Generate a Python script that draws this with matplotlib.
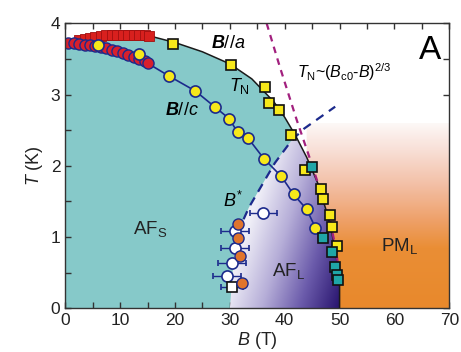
import numpy as np
import matplotlib
matplotlib.use("Agg")
import matplotlib.pyplot as plt
from matplotlib.patches import Polygon
from matplotlib.colors import LinearSegmentedColormap
from matplotlib.ticker import MultipleLocator

plt.rcParams['font.family'] = 'Liberation Sans'
plt.rcParams['mathtext.fontset'] = 'custom'
plt.rcParams['mathtext.rm'] = 'Liberation Sans'
plt.rcParams['mathtext.it'] = 'Liberation Sans:italic'
plt.rcParams['mathtext.bf'] = 'Liberation Sans:bold:italic'

# phase boundary T_N (black line)
bnd_B = [0, 2, 5, 10, 15, 20, 25, 30, 34, 38, 40, 42, 44, 46, 47.9, 48.6, 49.2, 49.8, 50, 50]
bnd_T = [3.76, 3.79, 3.82, 3.85, 3.83, 3.73, 3.60, 3.43, 3.22, 2.90, 2.68, 2.42, 2.12, 1.76, 1.29, 1.05, 0.82, 0.55, 0.30, 0]

# left edge of AF_L region and B* dashed line
afl_B = [30, 30.3, 30.6, 31, 31.8, 32.5]
afl_T = [0, 0.3, 0.6, 0.9, 1.1, 1.25]
bstar_B = [32.5, 33.5, 36, 38.2, 41, 42, 43.5, 49.2]
bstar_T = [1.25, 1.42, 1.75, 2.04, 2.33, 2.41, 2.52, 2.83]

# T_N ~ (Bc0 - B)^(2/3) dashed line
fit_B = [36.7, 39.1, 42.2, 44.5, 46.3, 48.3, 49.4, 50.1]
fit_T = [4.0, 3.39, 2.64, 2.12, 1.70, 1.22, 0.80, 0.36]

# B//a : red squares (low field), yellow squares, teal squares
rsq_B = [2.5, 3.5, 4.5, 5.5, 6.5, 7.5, 8.5, 9.5, 10.5, 11.5, 12.5, 13.5, 14.5, 15.2]
rsq_T = [3.76, 3.78, 3.80, 3.81, 3.82, 3.83, 3.84, 3.84, 3.84, 3.83, 3.83, 3.83, 3.83, 3.82]
ysq_B = [19.7, 30.2, 36.4, 37.2, 38.9, 41.1, 43.7, 46.7, 47.0, 48.2, 48.6, 49.6]
ysq_T = [3.71, 3.42, 3.10, 2.88, 2.78, 2.43, 1.94, 1.68, 1.54, 1.31, 1.14, 0.87]
tsq_B = [44.9, 46.9, 48.7, 49.2, 49.5, 49.7]
tsq_T = [1.99, 0.98, 0.79, 0.58, 0.47, 0.40]

# B//c : red circles (low field), yellow circles
rci_B = [0.5, 1.5, 2.5, 3.5, 4.5, 5.5, 6.5, 7.5, 8.5, 9.5, 10.5, 11.5, 12.5, 13.5, 14.5, 15.0]
rci_T = [3.72, 3.72, 3.71, 3.70, 3.69, 3.68, 3.67, 3.65, 3.63, 3.61, 3.59, 3.56, 3.53, 3.50, 3.47, 3.44]
yci_B = [5.9, 13.4, 18.9, 23.7, 27.2, 29.9, 31.4, 33.3, 36.2, 39.4, 41.6, 44.0, 45.6]
yci_T = [3.69, 3.57, 3.26, 3.05, 2.83, 2.66, 2.47, 2.39, 2.10, 1.85, 1.60, 1.39, 1.13]

# B* points: open circles with error bars, orange circles
wci_B = [36.1, 30.9, 30.9, 30.4, 29.5]
wci_T = [1.34, 1.08, 0.85, 0.63, 0.45]
wci_err = [2.4, 2.6, 2.6, 2.5, 2.6]
wsq_B = [30.4]
wsq_T = [0.30]
wsq_err = [2.0]
oci_B = [31.5, 31.5, 31.8, 32.2]
oci_T = [1.19, 0.98, 0.73, 0.35]

navy = '#1c2a8c'
teal = '#86c9c9'

fig = plt.figure(figsize=(4.61, 3.52), dpi=100)
ax = fig.add_axes([0.1417, 0.1241, 0.8329, 0.8097])
ax.set_xlim(0, 70)
ax.set_ylim(0, 4)

# teal AF_S region
teal_poly = Polygon(list(zip(bnd_B, bnd_T)) + [(0, 0)], closed=True,
                    facecolor=teal, edgecolor='none', zorder=1)
ax.add_patch(teal_poly)

gB, gT = np.meshgrid(np.linspace(0, 70, 700), np.linspace(0, 4, 400))

# AF_L region with purple gradient
afl_pts = list(zip(afl_B, afl_T)) + list(zip(bstar_B[1:5], bstar_T[1:5]))
afl_pts += [(b, t) for b, t in zip(bnd_B, bnd_T) if b >= 42]
afl_poly = Polygon(afl_pts, closed=True, facecolor='none', edgecolor='none')
ax.add_patch(afl_poly)
d = 0.95 * gB * 5.486 - 0.3 * gT * 71.25
v = np.clip((d - 150) / 110, 0, 1)
cm_afl = LinearSegmentedColormap.from_list('afl', ['#efeef7', '#b6aed8', '#6b5bab', '#2a1670'])
im = ax.imshow(v, extent=(0, 70, 0, 4), origin='lower', aspect='auto', cmap=cm_afl,
               vmin=0, vmax=1, zorder=2)
im.set_clip_path(afl_poly)

# PM_L region with orange gradient
pm_pts = [(b, t) for b, t in zip(bnd_B, bnd_T) if b >= 44] + [(70, 0), (70, 2.6), (44, 2.6)]
pm_poly = Polygon(pm_pts, closed=True, facecolor='none', edgecolor='none')
ax.add_patch(pm_poly)
cm_pm = LinearSegmentedColormap.from_list(
    'pm', [(0, '#e8892c'), (0.32, '#ea8e35'), (0.47, '#eea068'),
           (0.66, '#f3bfa5'), (0.85, '#f8dfd6'), (1, '#fdf9f8')])
im2 = ax.imshow(np.clip(gT / 2.6, 0, 1), extent=(0, 70, 0, 4), origin='lower',
                aspect='auto', cmap=cm_pm, vmin=0, vmax=1, zorder=2)
im2.set_clip_path(pm_poly)

# lines
ax.plot(bnd_B[4:], bnd_T[4:], color='#1a1a1a', lw=1.1, zorder=3)
ax.plot(bstar_B, bstar_T, color=navy, lw=1.6, ls=(0, (4, 3)), zorder=3)
ax.plot(fit_B, fit_T, color='#a2207e', lw=1.6, ls=(0, (3, 2.5)), zorder=3)
ax.plot(rci_B + yci_B[2:], rci_T + yci_T[2:], color=navy, lw=1.2, zorder=4)

# markers
ax.plot(rsq_B, rsq_T, 's', ms=7, mfc='#d8201e', mec='#a01010', mew=0.6, zorder=5)
ax.plot(rci_B, rci_T, 'o', ms=8, mfc='#d8202c', mec=navy, mew=1.0, zorder=5)
ax.plot(yci_B, yci_T, 'o', ms=8, mfc='#f7e81a', mec=navy, mew=1.2, zorder=6)
ax.plot(ysq_B, ysq_T, 's', ms=7.5, mfc='#f7e81a', mec='#111111', mew=1.2, zorder=6)
ax.errorbar([46.9], [0.98], xerr=[[0.9], [0]], fmt='none', ecolor=navy, elinewidth=1, capsize=2.5, zorder=6)
ax.plot(tsq_B, tsq_T, 's', ms=7, mfc='#1fa6a8', mec='#111111', mew=1.2, zorder=7)
ax.errorbar(wci_B, wci_T, xerr=wci_err, fmt='o', ms=8, mfc='white', mec=navy, mew=1.2,
            ecolor=navy, elinewidth=1, capsize=2.5, zorder=6)
ax.errorbar(wsq_B, wsq_T, xerr=wsq_err, fmt='s', ms=6.5, mfc='white', mec='#111111', mew=1.2,
            ecolor=navy, elinewidth=1, capsize=2.5, zorder=6)
ax.plot(oci_B, oci_T, 'o', ms=8, mfc='#e0742c', mec=navy, mew=1.0, zorder=7)

# labels in the plot
ax.text(26.5, 3.72, r'$\mathbf{B}//a$', fontsize=13, va='center', zorder=8)
ax.text(29.8, 3.12, r'$T_\mathrm{N}$', fontsize=13, va='center', zorder=8)
ax.text(18.2, 2.78, r'$\mathbf{B}//c$', fontsize=13, va='center', zorder=8)
ax.text(42.3, 3.32, r'$T_\mathrm{N}$~($B_\mathrm{c0}$-$B$)$^{2/3}$', fontsize=11.5, va='center', zorder=8)
ax.text(64.4, 3.62, 'A', fontsize=24, va='center', zorder=8)
ax.text(28.8, 1.5, r'$B^{*}$', fontsize=13, va='center', zorder=8)
ax.text(12.3, 1.12, r'AF$_\mathrm{S}$', fontsize=13.5, va='center', color='#222222', zorder=8)
ax.text(37.7, 0.52, r'AF$_\mathrm{L}$', fontsize=13.5, va='center', color='#222222', zorder=8)
ax.text(57.5, 0.88, r'PM$_\mathrm{L}$', fontsize=13.5, va='center', color='#222222', zorder=8)

ax.set_xlabel(r'$B$ (T)', fontsize=13, labelpad=1, color='#222222')
ax.set_ylabel(r'$T$ (K)', fontsize=13, labelpad=4, color='#222222')
ax.xaxis.set_major_locator(MultipleLocator(10))
ax.xaxis.set_minor_locator(MultipleLocator(5))
ax.yaxis.set_major_locator(MultipleLocator(1))
ax.yaxis.set_minor_locator(MultipleLocator(0.5))
ax.tick_params(which='both', direction='in', top=True, right=True, length=4,
               width=1, color='#333333', labelsize=12.5, labelcolor='#222222')
for s in ax.spines.values():
    s.set_linewidth(1)
    s.set_color('#333333')
    s.set_zorder(9)

fig.savefig('out.png', dpi=100)
